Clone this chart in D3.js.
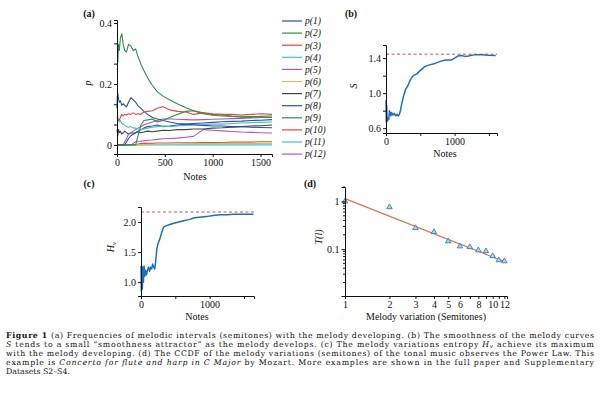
<!DOCTYPE html>
<html><head><meta charset="utf-8">
<script src="https://cdn.jsdelivr.net/npm/d3@7"></script>
<style>body{margin:0;background:#fff}svg{display:block}text{fill:#111}</style>
</head><body><svg id="c" width="600" height="400" font-family="Liberation Serif, Times New Roman, serif"></svg>
<script>
// ---------- Panel (a) data ----------
const notesA = [0,8,16,25,35,50,65,80,100,120,145,170,195,220,250,280,320,370,420,480,550,630,720,800,900,1000,1100,1200,1300,1400,1500,1620];
const p1  = [0.12,0.17,0.15,0.14,0.145,0.13,0.135,0.13,0.125,0.14,0.155,0.148,0.14,0.128,0.12,0.11,0.1,0.09,0.085,0.08,0.075,0.07,0.068,0.066,0.064,0.062,0.062,0.06,0.06,0.058,0.057,0.056];
const p2  = [0.27,0.27,0.33,0.31,0.35,0.365,0.33,0.31,0.305,0.33,0.325,0.31,0.315,0.29,0.265,0.245,0.22,0.195,0.175,0.16,0.148,0.135,0.122,0.112,0.102,0.097,0.095,0.093,0.091,0.09,0.094,0.095];
const p3  = [0.09,0.085,0.08,0.082,0.09,0.1,0.095,0.1,0.098,0.102,0.1,0.105,0.1,0.102,0.1,0.108,0.11,0.112,0.12,0.125,0.115,0.11,0.108,0.1,0.105,0.102,0.1,0.1,0.098,0.1,0.102,0.1];
const p4  = [0.16,0.09,0.08,0.075,0.08,0.07,0.068,0.065,0.06,0.058,0.06,0.055,0.055,0.052,0.05,0.052,0.055,0.058,0.06,0.062,0.06,0.062,0.064,0.065,0.066,0.068,0.068,0.07,0.072,0.073,0.074,0.075];
const p5  = [0,0,0,0,0,0,0,0,0,0,0,0.005,0.01,0.012,0.012,0.013,0.015,0.016,0.018,0.02,0.021,0.022,0.025,0.028,0.05,0.048,0.046,0.044,0.042,0.041,0.04,0.039];
const p6  = [0,0,0,0,0,0,0,0,0,0,0,0,0,0,0,0,0.002,0.002,0.003,0.003,0.003,0.003,0.004,0.004,0.004,0.004,0.005,0.005,0.005,0.005,0.005,0.005];
const p7  = [0.05,0.03,0.05,0.04,0.045,0.035,0.04,0.045,0.04,0.035,0.04,0.038,0.04,0.042,0.04,0.042,0.045,0.043,0.045,0.048,0.047,0.05,0.05,0.052,0.052,0.055,0.056,0.058,0.06,0.062,0.063,0.065];
const p8  = [0,0,0,0,0,0,0,0,0.01,0.02,0.03,0.035,0.04,0.045,0.05,0.055,0.06,0.062,0.065,0.06,0.062,0.065,0.068,0.07,0.072,0.074,0.076,0.077,0.078,0.08,0.081,0.083];
const p9  = [0,0,0,0,0,0,0,0,0,0,0,0,0,0.03,0.065,0.08,0.082,0.085,0.075,0.08,0.09,0.1,0.11,0.112,0.105,0.1,0.098,0.095,0.094,0.093,0.092,0.09];
const p10 = [0,0,0,0,0,0,0,0,0,0,0,0,0,0.003,0.004,0.005,0.005,0.005,0.006,0.006,0.006,0.007,0.007,0.007,0.008,0.008,0.008,0.009,0.009,0.009,0.01,0.01];
const p11 = [0,0,0,0,0,0,0,0,0,0,0,0,0,0,0,0,0,0,0,0,0,0,0,0,0,0,0,0,0,0,0,0];
const p12 = [0,0,0,0,0,0,0,0.01,0.02,0.035,0.04,0.045,0.05,0.055,0.06,0.065,0.07,0.075,0.08,0.085,0.085,0.084,0.083,0.082,0.083,0.084,0.085,0.086,0.087,0.088,0.09,0.09];
const seriesA = [p1,p2,p3,p4,p5,p6,p7,p8,p9,p10,p11,p12];
const legendLabels = ["p(1)","p(2)","p(3)","p(4)","p(5)","p(6)","p(7)","p(8)","p(9)","p(10)","p(11)","p(12)"];
const colorsA = ["#2b4ea8","#2f8f46","#e8453c","#3cc4c8","#b455bd","#c9c55a","#454545","#2b4ea8","#2f8f46","#e8453c","#3cc4c8","#b455bd"];
const ticksA_x = [0,500,1000,1500];
const ticksA_y = [0,0.0667,0.1333,0.2,0.2667,0.3333,0.4];
const labelsA_y = ["0","","","0.2","","","0.4"];

// ---------- Panel (b) data ----------
const notesB = [0,5,10,15,20,30,40,50,60,70,80,100,120,140,160,180,195,210,230,260,290,320,360,400,450,500,560,620,700,780,850,900,950,1000,1050,1100,1150,1200,1300,1400,1500,1600];
const sVals  = [0.92,0.67,0.86,0.7,0.68,0.72,0.7,0.8,0.77,0.74,0.78,0.75,0.77,0.74,0.76,0.74,0.76,0.8,0.88,0.98,1.05,1.09,1.16,1.2,1.22,1.26,1.3,1.32,1.335,1.36,1.375,1.38,1.378,1.4,1.425,1.43,1.42,1.425,1.44,1.44,1.432,1.43];
const sAttractor = 1.445;
const ticksB_x = [0,500,1000,1500];
const labelsB_x = ["0","","1000",""];
const ticksB_y = [0.6,0.8,1.0,1.2,1.4];
const labelsB_y = ["0.6","","1.0","","1.4"];

// ---------- Panel (c) data ----------
const notesC = [0,5,10,15,20,25,35,45,55,65,80,95,110,125,140,155,170,185,200,215,230,250,275,300,330,370,420,480,550,620,700,780,850,950,1050,1150,1250,1350,1450,1550,1640];
const hVals  = [1.27,0.85,1.27,0.88,0.9,1.25,1.0,1.27,1.1,1.2,1.12,1.2,1.25,1.18,1.25,1.22,1.3,1.25,1.22,1.35,1.55,1.65,1.72,1.82,1.92,1.94,1.96,1.98,2.0,2.02,2.04,2.07,2.08,2.09,2.11,2.12,2.12,2.13,2.13,2.13,2.13];
const hMax = 2.167;
const ticksC_x = [0,500,1000,1500];
const labelsC_x = ["0","","1000",""];
const ticksC_y = [1.0,1.5,2.0];
const labelsC_y = ["1.0","1.5","2.0"];

// ---------- Panel (d) data ----------
const variation = [1,2,3,4,5,6,7,8,9,10,11,12];
const ccdf = [1,0.76,0.278,0.229,0.147,0.115,0.111,0.095,0.091,0.072,0.059,0.056];
const fitL = [1,12];
const fitT = [1.14,0.055];
const ticksD_x = [1,2,3,4,5,6,7,8,9,10,11,12];
const labelsD_x = ["1","2","3","4","5","6","","8","","10","","12"];
const majorD_y = [0.1,1];
const labelsD_y = ["0.1","1"];
const minorD_y = [0.02,0.03,0.04,0.05,0.06,0.07,0.08,0.09,0.2,0.3,0.4,0.5,0.6,0.7,0.8,0.9,2];

// ---------- Caption ----------
const captionLines = [
  [["Figure 1","b"],["   (a) Frequencies of melodic intervals (semitones) with the melody developing. (b) The smoothness of the melody curves",""]],
  [["S","i"],[" tends to a small \u201csmoothness attractor\u201d as the melody develops. (c) The melody variations entropy ",""],["H","i"],["v","sub"],[" achieve its maximum",""]],
  [["with the melody developing. (d) The CCDF of the melody variations (semitones) of the tonal music observes the Power Law. This",""]],
  [["example is ",""],["Concerto for flute and harp in C Major","i"],[" by Mozart. More examples are shown in the full paper and Supplementary",""]],
  [["Datasets S2\u2013S4.",""]]
];

const svg = d3.select("#c");
const FS = 10;

function styleAxis(g){
  g.attr("font-family",null);
  g.selectAll("path.domain").attr("stroke","#111").attr("stroke-width",1);
  g.selectAll(".tick line").attr("stroke","#111");
  g.selectAll("text").attr("font-size",FS).attr("fill","#111");
  g.attr("font-size",FS);
}
function fmtFrom(ticks,labels){ return d=>{const i=ticks.findIndex(v=>Math.abs(v-d)<1e-6);return i<0?"":labels[i];}; }
function label(x,y,txt,opts={}){
  const t = svg.append("text").attr("x",x).attr("y",y).attr("text-anchor",opts.anchor||"middle")
    .attr("font-size",opts.size||FS).text(txt);
  if(opts.bold) t.attr("font-weight","bold");
  if(opts.italic) t.attr("font-style","italic");
  if(opts.rot) t.attr("transform",`rotate(-90,${x},${y})`);
  return t;
}

// ===== Panel (a) =====
const xA = d3.scaleLinear().domain([0,1620]).range([117,272]);
const yA = d3.scaleLinear().domain([-0.03,0.41]).range([154,20]);
const lineA = d3.line().x((d,i)=>xA(notesA[i])).y(d=>yA(d));
const orderA = [10,9,5,4,6,11,7,3,0,8,2,1];
orderA.forEach(k=>{
  svg.append("path").attr("d",lineA(seriesA[k])).attr("fill","none")
    .attr("stroke",colorsA[k]).attr("stroke-width",1.1).attr("stroke-linejoin","round");
});
svg.append("g").attr("transform","translate(0,154)")
  .call(d3.axisBottom(xA).tickValues(ticksA_x).tickSizeOuter(0).tickSize(3).tickPadding(2).tickFormat(d3.format("d"))).call(styleAxis);
svg.append("g").attr("transform","translate(117,0)")
  .call(d3.axisLeft(yA).tickValues(ticksA_y).tickSizeOuter(0).tickSize(3).tickPadding(2)
    .tickFormat(fmtFrom(ticksA_y,labelsA_y)))
  .call(styleAxis);
label(91,83,"p",{italic:true,rot:true});
label(89,17,"(a)",{bold:true});
label(195,180,"Notes");
legendLabels.forEach((lab,i)=>{
  const y = 21 + i*12.1;
  svg.append("line").attr("x1",282).attr("x2",302).attr("y1",y).attr("y2",y)
    .attr("stroke",colorsA[i]).attr("stroke-width",1.2);
  svg.append("text").attr("x",305).attr("y",y+3.3).attr("font-size",9.5).attr("font-style","italic").text(lab);
});

// ===== Panel (b) =====
const xB = d3.scaleLinear().domain([0,1618]).range([386,497]);
const yB = d3.scaleLinear().domain([0.545,1.55]).range([133,45]);
svg.append("line").attr("x1",xB(0)).attr("x2",xB(1618)).attr("y1",yB(sAttractor)).attr("y2",yB(sAttractor))
  .attr("stroke","#d9534a").attr("stroke-width",1).attr("stroke-dasharray","3,2.5");
svg.append("path").attr("d",d3.line().x((d,i)=>xB(notesB[i])).y(d=>yB(d))(sVals))
  .attr("fill","none").attr("stroke","#1f6fb4").attr("stroke-width",1.5).attr("stroke-linejoin","round");
svg.append("g").attr("transform","translate(0,133)")
  .call(d3.axisBottom(xB).tickValues(ticksB_x).tickSizeOuter(0).tickSize(3).tickPadding(2)
    .tickFormat(fmtFrom(ticksB_x,labelsB_x))).call(styleAxis);
svg.append("g").attr("transform","translate(386,0)")
  .call(d3.axisLeft(yB).tickValues(ticksB_y).tickSizeOuter(0).tickSize(3).tickPadding(2)
    .tickFormat(fmtFrom(ticksB_y,labelsB_y))).call(styleAxis);
label(357,86,"S",{italic:true,rot:true});
label(351,17,"(b)",{bold:true});
label(445,157,"Notes");

// ===== Panel (c) =====
const xC = d3.scaleLinear().domain([0,1647]).range([141,254]);
const yC = d3.scaleLinear().domain([0.77,2.25]).range([296,207]);
svg.append("line").attr("x1",xC(0)).attr("x2",xC(1647)).attr("y1",yC(hMax)).attr("y2",yC(hMax))
  .attr("stroke","#d9534a").attr("stroke-width",1).attr("stroke-dasharray","3,2.5");
svg.append("path").attr("d",d3.line().x((d,i)=>xC(notesC[i])).y(d=>yC(d))(hVals))
  .attr("fill","none").attr("stroke","#1f6fb4").attr("stroke-width",1.5).attr("stroke-linejoin","round");
svg.append("g").attr("transform","translate(0,296)")
  .call(d3.axisBottom(xC).tickValues(ticksC_x).tickSizeOuter(0).tickSize(3).tickPadding(2)
    .tickFormat(fmtFrom(ticksC_x,labelsC_x))).call(styleAxis);
svg.append("g").attr("transform","translate(141,0)")
  .call(d3.axisLeft(yC).tickValues(ticksC_y).tickSizeOuter(0).tickSize(3).tickPadding(2)
    .tickFormat(fmtFrom(ticksC_y,labelsC_y))).call(styleAxis);
{
  const t = svg.append("text").attr("transform","translate(114,247) rotate(-90)").attr("text-anchor","middle").attr("font-size",FS);
  t.append("tspan").attr("font-style","italic").text("H");
  t.append("tspan").attr("font-style","italic").attr("font-size",7).attr("dy",2).text("v");
}
label(89,187,"(c)",{bold:true});
label(197,320,"Notes");

// ===== Panel (d) =====
const xD = d3.scaleLog().domain([1,12.5]).range([345,507]);
const yD = d3.scaleLog().domain([0.0105,2]).range([296,187]);
svg.append("path").attr("d",d3.line().x((d,i)=>xD(fitL[i])).y(d=>yD(d))(fitT))
  .attr("fill","none").attr("stroke","#dc7450").attr("stroke-width",1.2);
const tri = d3.symbol().type(d3.symbolTriangle).size(13);
svg.append("g").selectAll("path").data(ccdf).join("path")
  .attr("transform",(d,i)=>`translate(${xD(variation[i])},${yD(d)})`)
  .attr("d",tri).attr("fill","#b9d3ee").attr("stroke","#3a7cc0").attr("stroke-width",0.9);
svg.append("g").attr("transform","translate(0,296)")
  .call(d3.axisBottom(xD).tickValues(ticksD_x).tickSizeOuter(0).tickSize(3).tickPadding(2)
    .tickFormat(fmtFrom(ticksD_x,labelsD_x))).call(styleAxis);
const gy = svg.append("g").attr("transform","translate(345,0)");
gy.call(d3.axisLeft(yD).tickValues(majorD_y).tickSizeOuter(0).tickSize(3.5).tickPadding(2)
  .tickFormat(fmtFrom(majorD_y,labelsD_y))).call(styleAxis);
gy.selectAll("line.minor").data(minorD_y).join("line").attr("class","minor")
  .attr("x1",-2).attr("x2",0).attr("y1",d=>yD(d)).attr("y2",d=>yD(d)).attr("stroke","#111");
svg.append("text").attr("transform","translate(322,237) rotate(-90)").attr("text-anchor","middle")
  .attr("font-size",FS).attr("font-style","italic").text("T(l)");
label(310,187,"(d)",{bold:true});
label(426,320,"Melody variation (Semitones)");

// ===== Caption =====
captionLines.forEach((line,i)=>{
  const t = svg.append("text").attr("x",6).attr("y",337.5+9*i).attr("font-size",7.8)
    .style("font-family","'DejaVu Serif', serif");
  line.forEach(([txt,st],j)=>{
    const s = t.append("tspan").text(txt);
    if(st==="b") s.attr("font-weight","bold");
    if(st==="i") s.attr("font-style","italic");
    if(st==="sub"){ s.attr("font-style","italic").attr("font-size",5.5).attr("dy",1.2); }
    if(j>0 && line[j-1][1]==="sub") s.attr("dy",-1.2);
  });
  if(i<captionLines.length-1) t.attr("textLength",588).attr("lengthAdjust","spacing");
});
</script></body></html>
